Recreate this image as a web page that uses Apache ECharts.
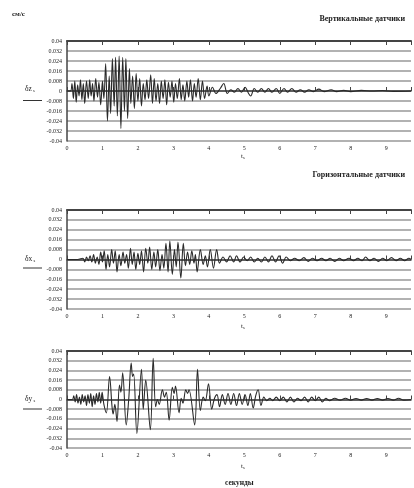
<!DOCTYPE html>
<html><head><meta charset="utf-8">
<script src="https://cdn.jsdelivr.net/npm/echarts@6/dist/echarts.min.js"></script>
<style>html,body{margin:0;padding:0;background:#fff}#c{width:414px;height:488px}</style>
</head><body><div id="c"></div>
<script>
// Tick labels
var xTicks = [0,1,2,3,4,5,6,7,8,9];
var yTicks = [0.04,0.032,0.024,0.016,0.008,0,-0.008,-0.016,-0.024,-0.032,-0.04];
var titles = ['Вертикальные датчики','Горизонтальные датчики'];
var unitLabel = 'см/с';
var xName = 'секунды';
var seriesLabels = ['δz','δx','δy'];

// Vertical sensor δz_s: [t, value]
var vertical = [[0,0],[0.10,0],[0.14,0.006],[0.18,-0.006],[0.22,0.008],[0.26,-0.009],[0.30,0.005],[0.34,-0.004],[0.38,0.009],[0.42,-0.007],[0.46,0.006],[0.50,-0.010],[0.55,0.008],[0.60,-0.006],[0.64,0.009],[0.68,-0.004],[0.72,0.006],[0.76,-0.008],[0.81,0.010],[0.86,-0.005],[0.90,0.007],[0.95,-0.011],[1.00,0.008],[1.04,-0.006],
[1.09,0.022],[1.14,-0.024],[1.19,0.012],[1.23,-0.018],[1.28,0.026],[1.33,-0.012],[1.37,0.027],[1.42,-0.020],[1.47,0.028],[1.52,-0.030],[1.57,0.027],[1.62,-0.016],[1.66,0.026],[1.71,-0.022],[1.76,0.018],[1.80,-0.010],[1.85,0.012],
[1.90,-0.014],[1.95,0.014],[2.00,-0.008],[2.05,0.010],[2.10,-0.012],[2.15,0.006],[2.20,-0.007],[2.25,0.009],[2.30,-0.006],[2.36,0.013],[2.41,-0.010],
[2.46,0.010],[2.51,-0.008],[2.56,0.006],[2.61,-0.010],[2.66,0.008],[2.71,-0.006],[2.76,0.009],[2.81,-0.011],[2.86,0.007],[2.91,-0.005],[2.96,0.008],[3.01,-0.009],[3.06,0.006],[3.11,-0.006],[3.17,0.010],[3.22,-0.007],[3.27,0.005],[3.32,-0.008],[3.38,0.008],[3.43,-0.005],[3.48,0.009],[3.54,-0.008],[3.59,0.006],[3.64,-0.005],[3.70,0.010],[3.76,-0.007],[3.82,0.008],[3.88,-0.006],
[3.95,0.004],[4.00,-0.004],[4.10,0.003],[4.20,-0.002],[4.32,0.002],[4.42,0.006],[4.52,-0.002],[4.62,0.001],[4.72,-0.001],[4.82,0.002],[4.92,-0.001],[5.02,0.003],[5.12,-0.002],[5.18,-0.004],[5.28,0.002],[5.38,-0.001],[5.48,0.002],[5.58,-0.001],[5.68,0.002],[5.78,-0.001],[5.90,0.002],[6.00,-0.002],[6.12,0.002],[6.22,-0.001],[6.34,0.002],[6.46,-0.001],[6.58,0.001],[6.70,-0.001],[6.82,0.001],[6.95,-0.0005],[7.10,0.0015],[7.25,-0.0005],[7.45,0.001],[7.60,-0.0005],[7.80,0.0005],[8.00,-0.0005],[8.30,0.0005],[8.60,0],[8.90,0.0004],[9.20,-0.0003],[9.70,0]];

// Horizontal sensor δx_s
var horizontalX = [[0,0],[0.30,0],[0.45,0.001],[0.50,-0.002],[0.55,0.002],[0.60,-0.001],[0.65,0.003],[0.70,-0.002],[0.75,0.004],[0.80,-0.003],[0.85,0.002],[0.90,-0.004],[0.95,0.006],[1.00,-0.002],[1.05,0.007],[1.10,-0.008],[1.15,0.004],[1.20,-0.006],[1.26,0.008],[1.31,-0.003],[1.36,0.007],[1.41,-0.010],[1.47,0.004],[1.52,-0.005],[1.58,0.006],[1.63,-0.003],[1.68,0.004],[1.73,-0.007],[1.79,0.009],[1.84,-0.004],[1.89,0.006],[1.94,-0.008],[2.00,0.005],[2.05,-0.004],[2.10,0.007],[2.16,-0.010],[2.22,0.009],[2.28,-0.003],[2.33,0.010],[2.39,-0.008],[2.45,0.006],[2.50,-0.006],[2.56,0.008],[2.62,-0.009],[2.68,0.004],[2.73,-0.007],[2.79,0.013],[2.85,-0.010],[2.90,0.015],[2.97,-0.012],[3.03,0.008],[3.08,-0.006],[3.13,0.014],[3.21,-0.015],[3.28,0.013],[3.34,-0.005],[3.40,0.006],[3.46,-0.004],[3.52,0.007],[3.58,-0.003],[3.62,0.004],[3.67,-0.010],[3.76,0.008],[3.84,-0.004],[3.90,0.003],[3.96,-0.006],[4.04,0.008],[4.13,-0.007],[4.22,0.008],[4.30,-0.003],[4.40,0.002],[4.50,-0.002],[4.60,0.003],[4.70,-0.002],[4.78,0.003],[4.88,-0.002],[4.98,0.002],[5.08,-0.001],[5.18,0.002],[5.28,-0.002],[5.38,0.001],[5.48,-0.002],[5.58,0.002],[5.68,-0.002],[5.78,0.003],[5.88,-0.002],[5.98,0.003],[6.08,-0.003],[6.18,0.002],[6.30,-0.001],[6.42,0.001],[6.55,-0.001],[6.68,0.0015],[6.80,-0.0015],[6.92,0.001],[7.05,-0.001],[7.18,0.001],[7.30,-0.001],[7.42,0.001],[7.55,-0.0015],[7.68,0.001],[7.80,-0.001],[7.95,0.001],[8.08,-0.001],[8.20,0.001],[8.32,-0.001],[8.42,0.002],[8.54,-0.001],[8.66,0.001],[8.78,-0.0015],[8.90,0.001],[9.02,-0.001],[9.15,0.0015],[9.28,-0.001],[9.40,0.001],[9.52,-0.001],[9.64,0.001],[9.70,0]];

// Horizontal sensor δy_s
var horizontalY = [[0,0],[0.15,0],[0.19,0.003],[0.23,-0.002],[0.27,0.004],[0.31,-0.003],[0.35,0.002],[0.39,-0.004],[0.43,0.004],[0.47,-0.002],[0.51,0.003],[0.55,-0.005],[0.59,0.004],[0.63,-0.003],[0.67,0.005],[0.71,-0.006],[0.75,0.003],[0.79,-0.004],[0.83,0.005],[0.87,-0.002],[0.91,0.006],[0.95,-0.003],[0.99,0.006],[1.04,-0.004],[1.11,-0.011],[1.20,0.019],[1.27,-0.006],[1.30,-0.012],[1.35,-0.004],[1.41,-0.018],[1.48,0.012],[1.52,0.006],[1.57,0.022],[1.67,-0.021],[1.74,0.000],[1.81,0.030],[1.85,0.019],[1.88,0.021],[1.97,-0.028],[2.10,0.025],[2.15,-0.008],[2.22,0.016],[2.35,-0.025],[2.43,0.034],[2.50,-0.006],[2.55,0.000],[2.60,-0.004],[2.69,0.008],[2.75,0.002],[2.80,0.006],[2.88,-0.017],[2.97,0.010],[3.02,0.005],[3.06,0.011],[3.16,-0.011],[3.22,0.001],[3.27,-0.003],[3.35,0.008],[3.40,0.005],[3.44,0.008],[3.60,-0.021],[3.68,0.025],[3.76,-0.009],[3.84,0.002],[3.90,-0.001],[3.99,0.013],[4.08,-0.008],[4.16,0.001],[4.23,0.004],[4.30,-0.006],[4.38,0.004],[4.46,-0.004],[4.54,0.005],[4.62,-0.004],[4.70,0.005],[4.78,-0.005],[4.86,0.005],[4.94,-0.004],[5.02,0.004],[5.10,-0.005],[5.17,0.005],[5.25,-0.007],[5.32,0.003],[5.39,0.008],[5.47,-0.005],[5.55,0.002],[5.63,-0.001],[5.72,0.001],[5.80,-0.001],[5.90,0.002],[6.00,-0.001],[6.10,0.002],[6.20,-0.002],[6.30,0.002],[6.40,-0.002],[6.50,0.001],[6.60,-0.001],[6.70,0.002],[6.80,-0.002],[6.90,0.002],[7.00,-0.001],[7.10,0.002],[7.20,-0.002],[7.30,0.001],[7.40,-0.001],[7.55,0.001],[7.70,-0.0005],[7.85,0.001],[8.00,-0.0005],[8.15,0.0008],[8.30,-0.0005],[8.45,0.0008],[8.60,-0.0005],[8.75,0.0008],[8.90,-0.0005],[9.05,0.0008],[9.20,-0.0005],[9.35,0.001],[9.50,-0.0005],[9.70,0]];

var seriesData = [vertical, horizontalX, horizontalY];
var FONT = 'Liberation Serif';
var grids = [
  {left:67, right:0, top:41, height:100},
  {left:67, right:0, top:210, height:99},
  {left:67, right:0, top:351, height:97}
];
var xAxes = [], yAxes = [], series = [];
grids.forEach(function(g, i){
  xAxes.push({type:'value', gridIndex:i, position:'bottom', min:0, max:9.7, interval:1,
    axisLine:{lineStyle:{color:'#444', width:1.5}},
    axisTick:{inside:true, length:4, lineStyle:{color:'#444'}},
    axisLabel:{fontFamily:FONT, fontSize:6, color:'#222', margin:4,
      formatter:function(v){ return xTicks.indexOf(v) >= 0 ? String(v) : ''; }},
    splitLine:{show:false}});
  xAxes.push({type:'value', gridIndex:i, position:'top', min:0, max:9.7, interval:1,
    axisLine:{lineStyle:{color:'#444', width:2}},
    axisTick:{inside:true, length:4, lineStyle:{color:'#444'}},
    axisLabel:{show:false}, splitLine:{show:false}});
  yAxes.push({type:'value', gridIndex:i, min:-0.04, max:0.04, interval:0.008,
    axisLine:{show:true, lineStyle:{color:'#444', width:1.5}},
    axisTick:{show:false},
    axisLabel:{fontFamily:FONT, fontSize:6, color:'#222', margin:5,
      formatter:function(v){ var r = Number(v.toFixed(3)); return yTicks.indexOf(r) >= 0 ? String(r) : ''; }},
    splitLine:{lineStyle:{color:'#999', width:1.6}}});
  series.push({type:'line', xAxisIndex:i*2, yAxisIndex:i, data:seriesData[i], showSymbol:false,
    smooth:0.35, lineStyle:{color:'#2a2a2a', width:1.1}, animation:false});
});

var labelYs = [[90,100.5],[260,268],[400,409]];
var graphic = [
  {type:'text', left:12, top:11, style:{text:unitLabel, font:'bold 7px "Liberation Serif"', fill:'#222'}},
  {type:'text', right:9, top:15, style:{text:titles[0], font:'bold 8px "Liberation Serif"', fill:'#222'}},
  {type:'text', right:9, top:171, style:{text:titles[1], font:'bold 8px "Liberation Serif"', fill:'#222'}},
  {type:'text', left:225, top:479, style:{text:xName, font:'bold 7.5px "Liberation Serif"', fill:'#222'}}
];
[153, 323, 463].forEach(function(y){
  graphic.push({type:'text', left:241, top:y, style:{
    text:'{a|t}{b|s}', rich:{a:{fontFamily:FONT, fontSize:7, fill:'#222'}, b:{fontFamily:FONT, fontSize:4.5, fill:'#222', padding:[3,0,0,0]}}}});
});
labelYs.forEach(function(p, i){
  graphic.push({type:'text', left:25, top:p[0]-5, style:{
    text:'{a|'+seriesLabels[i]+'}{b| s}', rich:{a:{fontFamily:FONT, fontSize:7.5, fill:'#222'}, b:{fontFamily:FONT, fontSize:4.5, fill:'#222', padding:[3,0,0,0]}}}});
  graphic.push({type:'line', shape:{x1:23, y1:p[1], x2:42, y2:p[1]}, style:{stroke:'#333', lineWidth:1}});
});

var chart = echarts.init(document.getElementById('c'));
chart.setOption({animation:false, backgroundColor:'#fff', grid:grids, xAxis:xAxes, yAxis:yAxes, series:series, graphic:graphic});
</script></body></html>
